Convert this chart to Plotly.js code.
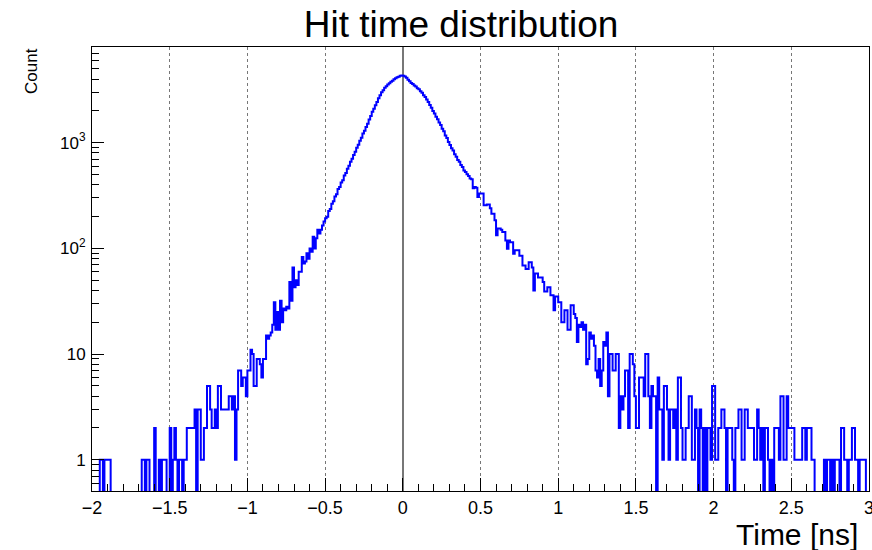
<!DOCTYPE html>
<html>
<head>
<meta charset="utf-8">
<script src="https://cdn.plot.ly/plotly-3.0.1.min.js"></script>
<style>html,body{margin:0;padding:0;background:#fff;}#chart{width:872px;height:550px;}</style>
</head>
<body>
<div id="chart"></div>
<script>
// Histogram definition: 500 bins from -2 ns to 3 ns
const histMin = -2;
const binWidth = 0.01;

// Counts per bin (bins 0-149: t = -2.0 .. -0.5)
const countsLeftTail = [
  0,0,0,0,0,1,1,0,1,1,
  1,1,0,0,0,0,0,0,0,0,
  0,0,0,0,0,0,0,0,0,0,
  0,0,1,1,0,1,1,0,0,0,
  2,0,0,1,0,1,1,1,0,0,
  2,0,1,2,1,0,1,1,0,1,
  1,2,2,2,2,2,3,0,3,3,
  1,1,2,2,5,5,3,2,2,3,
  2,5,5,3,3,3,3,3,4,4,
  3,4,1,3,7,7,5,6,6,4,
  7,7,11,10,5,5,9,9,8,6,
  9,9,15,14,15,16,19,31,17,25,
  17,32,20,27,26,28,27,48,32,66,
  43,50,45,60,60,83,72,75,90,80,
  100,93,129,100,125,150,138,150,165,180
];

// bins 150-249: t = -0.5 .. 0.5
const countsCore = [
  193,199,226,236,265,279,310,326,364,381,
  420,441,488,516,568,606,660,706,765,820,
  895,955,1040,1112,1218,1296,1408,1512,1660,1790,
  1960,2090,2265,2420,2635,2805,2995,3135,3315,3420,
  3560,3640,3775,3850,3985,4060,4165,4210,4290,4320,
  4305,4220,4110,3940,3810,3660,3590,3470,3390,3280,
  3210,3070,2960,2810,2710,2560,2430,2270,2140,1990,
  1890,1760,1670,1550,1470,1355,1280,1170,1105,1015,
  950,885,845,775,735,685,660,615,590,545,
  528,502,484,457,450,370,380,375,306,330
];

// bins 250-499: t = 0.5 .. 3.0
const countsRightTail = [
  330,330,256,256,260,260,240,213,213,185,
  133,154,154,150,143,143,119,99,119,114,
  114,89,96,96,96,85,85,69,69,64,
  64,74,74,66,40,58,58,53,53,53,
  48,39,39,43,43,36,36,26,35,35,
  31,31,20,20,26,26,17,17,29,29,
  24,22,13,19,18,20,17,19,8,9,
  16,14,15,12,7,6,9,5,7,13,
  12,16,4,10,10,7,7,10,10,2,
  4,3,4,7,7,2,10,10,8,4,
  2,2,6,6,6,4,10,10,4,2,
  5,4,4,0,6,3,3,1,5,5,
  3,1,3,3,2,3,1,6,6,2,
  1,1,2,2,4,4,1,1,3,2,
  0,3,2,0,2,0,2,2,1,5,
  5,1,1,2,2,3,3,2,0,2,
  2,2,1,0,2,2,3,3,1,1,
  3,3,2,2,2,2,1,1,3,2,
  1,2,0,2,2,1,0,1,0,2,
  2,2,1,4,4,1,1,4,2,2,
  2,2,1,1,1,1,1,2,2,1,
  2,2,2,1,1,0,0,0,0,0,
  0,1,0,1,1,0,1,0,1,1,
  1,0,2,2,1,1,0,1,1,2,
  2,1,1,0,1,1,1,1,0,0
];

// Axis labels
const xTickVals = [-2,-1.5,-1,-0.5,0,0.5,1,1.5,2,2.5,3];
const yTickVals = [1,10,100,1000];
const yTickText = ['1','10','10<sup>2</sup>','10<sup>3</sup>'];

const counts = countsLeftTail.concat(countsCore, countsRightTail);
// Step histogram through bin edges; empty bins drop below the log axis floor
const xs = [], ys = [];
for (let i = 0; i < counts.length; i++) {
  xs.push(histMin + i * binWidth);
  ys.push(counts[i] > 0 ? counts[i] : 0.05);
}
xs.push(histMin + counts.length * binWidth);
ys.push(ys[ys.length - 1]);

const yMinor = [];
[0.1,1,10,100,1000].forEach(d => { for (let k = 2; k <= 9; k++) yMinor.push(k * d); });

const FONT = 'Liberation Sans, Arial, Helvetica, sans-serif';

const trace = {
  type: 'scatter', mode: 'lines', x: xs, y: ys,
  line: {shape: 'hv', color: '#0000ff', width: 2},
  hoverinfo: 'skip'
};

const layout = {
  width: 872, height: 550,
  margin: {l: 92, r: 3, t: 47, b: 59, pad: 0},
  paper_bgcolor: '#ffffff', plot_bgcolor: '#ffffff',
  showlegend: false,
  font: {family: FONT, color: '#000'},
  title: {text: 'Hit time distribution', font: {family: FONT, size: 37, color: '#000'},
          x: 461/872, xanchor: 'center', xref: 'container', y: 1 - 24/550, yanchor: 'middle', yref: 'container'},
  xaxis: {
    range: [-2, 3], tickvals: xTickVals, ticktext: xTickVals.map(v => (v < 0 ? '\u2212' + Math.abs(v) : String(v))),
    ticks: 'inside', ticklen: 13, tickwidth: 1, tickcolor: '#000',
    showline: true, mirror: true, linecolor: '#000', linewidth: 1,
    showgrid: true, gridcolor: '#777', griddash: 'dot', gridwidth: 1,
    zeroline: true, zerolinecolor: '#777', zerolinewidth: 2,
    tickfont: {family: FONT, size: 18, color: '#000'},
    ticklabeloverflow: 'allow',
    minor: {ticks: 'inside', ticklen: 7, dtick: 0.1, tick0: 0, tickcolor: '#000', tickwidth: 1, showgrid: false},
    fixedrange: true
  },
  yaxis: {
    type: 'log', range: [-0.295, 3.905],
    tickvals: yTickVals, ticktext: yTickText,
    ticks: 'inside', ticklen: 12, tickwidth: 1, tickcolor: '#000',
    showline: true, mirror: true, linecolor: '#000', linewidth: 1,
    showgrid: false, zeroline: false,
    tickfont: {family: FONT, size: 17, color: '#000'},
    ticklabelstandoff: 2,
    minor: {ticks: 'inside', ticklen: 7, tickvals: yMinor, tickcolor: '#000', tickwidth: 1, showgrid: false},
    fixedrange: true
  },
  annotations: [
    {text: 'Count', textangle: -90, xref: 'paper', yref: 'paper',
     x: (31 - 92) / 777, y: (491 - 71) / 444, xanchor: 'center', yanchor: 'middle',
     showarrow: false, font: {family: FONT, size: 17, color: '#000'}},
    {text: 'Time [ns]', xref: 'paper', yref: 'paper',
     x: (860 - 92) / 777, y: (491 - 534) / 444, xanchor: 'right', yanchor: 'middle',
     showarrow: false, font: {family: FONT, size: 30, color: '#000'}}
  ]
};

Plotly.newPlot('chart', [trace], layout, {displayModeBar: false, staticPlot: true});
</script>
</body>
</html>
